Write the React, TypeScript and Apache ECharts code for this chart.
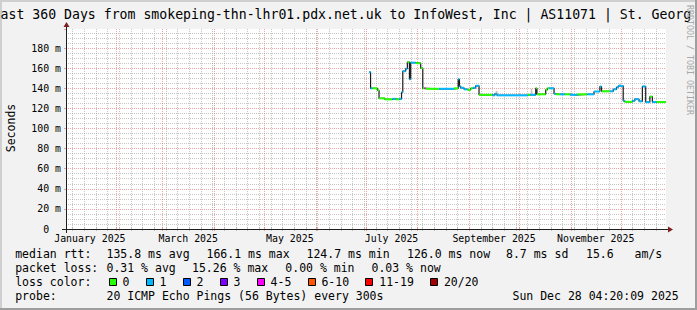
import React, { useEffect, useRef } from 'react';
import * as echarts from 'echarts';

const W = 697;
const H = 310;
const FONT = 'DejaVu Sans Mono';

// ---- chart data ----
const rangeStart = '2025-01-02T04:20:09';
const rangeEnd = '2025-12-28T04:20:09';

const sampleTimes = [
  '2025-07-03T00', '2025-07-03T22', '2025-07-05T00', '2025-07-08T00', '2025-07-09T00',
  '2025-07-12T12', '2025-07-17T00', '2025-07-19T00', '2025-07-21T00', '2025-07-22T12',
  '2025-07-23T06', '2025-07-25T00', '2025-07-26T00', '2025-07-27T06', '2025-07-28T00',
  '2025-07-31T00', '2025-08-03T00', '2025-08-04T06', '2025-08-05T06', '2025-08-06T00',
  '2025-08-14T00', '2025-08-23T00', '2025-08-25T12', '2025-08-26T06', '2025-08-27T00',
  '2025-08-29T00', '2025-08-31T00', '2025-09-02T00', '2025-09-03T06', '2025-09-05T00',
  '2025-09-07T00', '2025-09-15T00', '2025-09-16T12', '2025-09-17T18', '2025-10-06T06',
  '2025-10-07T18', '2025-10-11T00', '2025-10-11T18', '2025-10-17T00', '2025-10-18T00',
  '2025-10-19T00', '2025-10-22T00', '2025-10-23T00', '2025-10-25T12', '2025-10-28T12',
  '2025-10-31T12', '2025-11-05T00', '2025-11-11T00', '2025-11-15T00', '2025-11-18T12',
  '2025-11-19T12', '2025-11-24T12', '2025-11-26T12', '2025-11-28T12', '2025-11-29T12',
  '2025-12-02T12', '2025-12-03T12', '2025-12-08T00', '2025-12-09T12', '2025-12-12T00',
  '2025-12-14T00', '2025-12-16T00', '2025-12-18T12', '2025-12-20T00', '2025-12-22T12',
  '2025-12-28T04:20:09',
];
const medianMs = [
  156, 140, 140, 138, 130,
  129, 129.5, 129, 129.5, 136,
  157, 159.5, 166, 149, 165.5,
  165, 160, 140, 140, 139.5,
  139.5, 140, 149, 142, 140.5,
  139, 138.5, 140, 140.5, 142.5,
  133.5, 133, 134.5, 133, 133.5,
  133.5, 140, 134, 138.5, 140,
  140, 134.5, 134, 134, 134,
  133.5, 134, 134, 136.8, 141.8,
  137, 137, 139, 141, 142.4,
  127.5, 126.5, 127.5, 129.2, 127,
  141.8, 126.2, 131.8, 126.3, 126.3,
  126.0,
];
const lossBucket = [
  1, 1, 0, 0, 0,
  0, 1, 0, 1, 1,
  1, 1, 0, 1, 1,
  0, 0, 0, 4, 0,
  1, 0, 1, 1, 1,
  1, 0, 0, 1, 1,
  0, 1, 1, 1, 0,
  1, 0, 0, 0, 0,
  1, 1, 0, 1, 0,
  1, 0, 1, 1, 1,
  0, 1, 1, 1, 1,
  1, 0, 1, 1, 1,
  1, 1, 0, 1, 0,
  0,
];

const smokeTimes = ['2025-09-17', '2025-10-08', '2025-11-30', '2025-12-14'];
const smokeLow = [134, 134, 142.4, 141.8];
const smokeHigh = [137.5, 139.5, 144.5, 143];

const lossLabels = ['0', '1', '2', '3', '4-5', '6-10', '11-19', '20/20'];
const lossColors = ['#26ff00', '#00b8ff', '#0059ff', '#7e00ff', '#ff00ff', '#ff5500', '#ff0000', '#a00000'];

const monthStarts = [
  '2025-02-01', '2025-03-01', '2025-04-01', '2025-05-01', '2025-06-01', '2025-07-01',
  '2025-08-01', '2025-09-01', '2025-10-01', '2025-11-01', '2025-12-01',
];
const labelMonths = ['2025-01', '2025-03', '2025-05', '2025-07', '2025-09', '2025-11'];
const labelTexts = ['January 2025', 'March 2025', 'May 2025', 'July 2025', 'September 2025', 'November 2025'];

const rttValues = [135.8, 166.1, 124.7, 126.0];
const rttNames = ['avg', 'max', 'min', 'now'];
const rttSd = 8.7;
const rttAmS = 15.6;
const lossValues = [0.31, 15.26, 0.0, 0.03];
const lossNames = ['avg', 'max', 'min', 'now'];
const probeText = '20 ICMP Echo Pings (56 Bytes) every 300s';
const stampText = 'Sun Dec 28 04:20:09 2025';
// the visible (centred, edge-clipped) part of the graph title
const titleText = 'ast 360 Days from smokeping-thn-lhr01.pdx.net.uk to InfoWest, Inc | AS11071 | St. Georg';
const yUnit = 'm';
const yMin = 0;
const yMax = 199;
const yStep = 20;

// ---- helpers ----
function t(s: string): number {
  const m = s.match(/^(\d+)-(\d+)-(\d+)(?:T(\d+)(?::(\d+))?(?::(\d+))?)?$/)!;
  return Date.UTC(+m[1], +m[2] - 1, +m[3], +(m[4] || 0), +(m[5] || 0), +(m[6] || 0));
}
const DAY = 86400000;

const GRID_LEFT = 66;
const GRID_TOP = 29;
const GRID_W = 600;
const GRID_H = 200;
const GRID_BOTTOM = GRID_TOP + GRID_H;
const GRID_RIGHT = GRID_LEFT + GRID_W;

const majorGrid = 'rgba(222,79,79,0.5)';
const minorGrid = 'rgba(143,143,143,0.5)';
const axisColor = '#1f1f1f';
const arrowColor = '#801f1f';

function txt(text: string, x: number, y: number, size: number, extra: any = {}) {
  return {
    type: 'text',
    x,
    y,
    silent: true,
    ...extra,
    style: {
      text,
      fontFamily: FONT,
      fontSize: size,
      fill: '#000',
      textAlign: 'left',
      textVerticalAlign: 'middle',
      align: 'left',
      verticalAlign: 'middle',
      ...(extra.style || {}),
    },
  };
}

function buildOption(): any {
  const tStart = t(rangeStart);
  const tEnd = t(rangeEnd);

  // grid lines: weekly (Monday) minor, monthly major
  const gridData: number[][] = [];
  for (let ms = t('2025-01-06'); ms < tEnd; ms += 7 * DAY) {
    if (!monthStarts.some((m) => t(m) === ms)) gridData.push([ms, 0]);
  }
  monthStarts.forEach((m) => gridData.push([t(m), 1]));

  const labelData = labelMonths.map((ym, i) => {
    const [y, mo] = ym.split('-').map(Number);
    const a = Date.UTC(y, mo - 1, 1);
    const b = Date.UTC(y, mo, 1);
    return [(a + b) / 2, i];
  });

  const lineData = sampleTimes.map((s, i) => [t(s), medianMs[i]]);
  const segData = sampleTimes.slice(0, -1).map((s, i) => [t(s), t(sampleTimes[i + 1]), medianMs[i], lossBucket[i]]);
  const smokeData = smokeTimes.map((s, i) => [t(s), smokeLow[i], smokeHigh[i]]);

  // legend graphics
  const L1 = 254, L2 = 268, L3 = 282, L4 = 296;
  const legend: any[] = [];
  legend.push(txt('median rtt:', 15.2, L1, 11.5));
  const rttX = [106.5, 206.5, 306.5, 407];
  rttValues.forEach((v, i) => legend.push(txt(`${v.toFixed(1)} ms ${rttNames[i]}`, rttX[i], L1, 11.5)));
  legend.push(txt(`${rttSd.toFixed(1)} ms sd`, 506, L1, 11.5));
  legend.push(txt(`${rttAmS.toFixed(1)}   am/s`, 586, L1, 11.5));

  legend.push(txt('packet loss:', 15.2, L2, 11.5));
  const lossX = [106.5, 192, 285.3, 371.5];
  lossValues.forEach((v, i) => legend.push(txt(`${v.toFixed(2)} % ${lossNames[i]}`, lossX[i], L2, 11.5)));

  legend.push(txt('loss color:', 15.2, L3, 11.5));
  let bx = 108.7;
  lossLabels.forEach((lab, i) => {
    legend.push({
      type: 'rect',
      silent: true,
      shape: { x: Math.round(bx) + 0.5, y: 278.5, width: 7, height: 7 },
      style: { fill: lossColors[i], stroke: '#000', lineWidth: 1 },
    });
    const tx = bx + 13.8;
    legend.push(txt(lab, tx, L3, 11.5));
    bx = tx + lab.length * 6.92 + 16.3;
  });

  legend.push(txt('probe:', 15.2, L4, 11.5));
  legend.push(txt(probeText, 106.5, L4, 11.5));
  legend.push(txt(stampText, 512.5, L4, 11.5));

  const graphic: any[] = [
    // frame shading
    { type: 'rect', silent: true, shape: { x: 0, y: 0, width: W, height: 2 }, style: { fill: '#cfcfcf' } },
    { type: 'rect', silent: true, shape: { x: 0, y: 0, width: 2, height: H }, style: { fill: '#cfcfcf' } },
    { type: 'rect', silent: true, shape: { x: W - 2, y: 0, width: 2, height: H }, style: { fill: '#9e9e9e' } },
    { type: 'rect', silent: true, shape: { x: 0, y: H - 2, width: W, height: 2 }, style: { fill: '#9e9e9e' } },
    // title
    txt(titleText, 0.5, 14, 13.2),
    // vertical axis title
    txt('Seconds', 11, 128, 11.5, { rotation: Math.PI / 2, style: { textAlign: 'center', align: 'center' } }),
    // watermark
    txt('RRDTOOL / TOBI OETIKER', 689.5, 60, 8.3, {
      rotation: -Math.PI / 2,
      style: { textAlign: 'center', align: 'center', fill: '#a8a8a8' },
    }),
    // axes (extended a little past the plot like rrdtool)
    {
      type: 'line', silent: true, z: 99,
      shape: { x1: GRID_LEFT - 4, y1: GRID_BOTTOM + 0.5, x2: GRID_RIGHT + 4, y2: GRID_BOTTOM + 0.5 },
      style: { stroke: axisColor, lineWidth: 1 },
    },
    {
      type: 'line', silent: true, z: 99,
      shape: { x1: GRID_LEFT + 0.5, y1: GRID_BOTTOM + 4, x2: GRID_LEFT + 0.5, y2: GRID_TOP - 4 },
      style: { stroke: axisColor, lineWidth: 1 },
    },
    // axis arrows
    {
      type: 'polygon', silent: true, z: 100,
      shape: { points: [[GRID_RIGHT + 7, GRID_BOTTOM + 0.5], [GRID_RIGHT + 2, GRID_BOTTOM - 2.5], [GRID_RIGHT + 2, GRID_BOTTOM + 3.5]] },
      style: { fill: arrowColor },
    },
    {
      type: 'polygon', silent: true, z: 100,
      shape: { points: [[GRID_LEFT + 0.5, GRID_TOP - 7], [GRID_LEFT - 2.5, GRID_TOP - 2], [GRID_LEFT + 3.5, GRID_TOP - 2]] },
      style: { fill: arrowColor },
    },
    ...legend,
  ];

  return {
    animation: false,
    backgroundColor: '#f2f2f2',
    grid: {
      left: GRID_LEFT,
      top: GRID_TOP,
      width: GRID_W,
      height: GRID_H,
      show: true,
      backgroundColor: '#ffffff',
      borderWidth: 0,
      containLabel: false,
    },
    xAxis: {
      type: 'value',
      min: tStart,
      max: tEnd,
      axisLine: { show: false },
      axisTick: { show: false },
      axisLabel: { show: false },
      splitLine: { show: false },
    },
    yAxis: {
      type: 'value',
      min: yMin,
      max: yMax,
      interval: yStep,
      axisLine: { show: false },
      axisTick: { show: true, length: 2, lineStyle: { color: majorGrid } },
      minorTick: { show: false, splitNumber: 4 },
      axisLabel: {
        margin: 5,
        fontFamily: FONT,
        fontSize: 9.9,
        color: '#000',
        formatter: (v: number) => (v === 0 ? '0\u00a0\u00a0' : v % yStep === 0 && v <= yMax ? `${v} ${yUnit}` : ''),
      },
      splitLine: { show: true, showMaxLine: false, showMinLine: false, lineStyle: { color: majorGrid, type: [1, 1], width: 1 } },
      minorSplitLine: { show: true, lineStyle: { color: minorGrid, type: [1, 1], width: 1 } },
    },
    graphic,
    series: [
      {
        type: 'custom',
        name: 'grid',
        z: 1,
        silent: true,
        clip: false,
        encode: { x: 0 },
        data: gridData,
        renderItem: (params: any, api: any) => {
          const cs = params.coordSys;
          const x = Math.round(api.coord([api.value(0), 0])[0]) + 0.5;
          const color = api.value(1) === 1 ? majorGrid : minorGrid;
          return {
            type: 'group',
            children: [
              { type: 'line', shape: { x1: x, y1: cs.y, x2: x, y2: cs.y + cs.height }, style: { stroke: color, lineWidth: 1, lineDash: [1, 1] } },
              { type: 'line', shape: { x1: x, y1: cs.y + cs.height - 2, x2: x, y2: cs.y + cs.height + 2 }, style: { stroke: color, lineWidth: 1 } },
            ],
          };
        },
      },
      {
        type: 'custom',
        name: 'labels',
        z: 1,
        silent: true,
        clip: false,
        encode: { x: 0 },
        data: labelData,
        renderItem: (params: any, api: any) => {
          const cs = params.coordSys;
          const x = api.coord([api.value(0), 0])[0];
          return {
            type: 'text',
            x,
            y: cs.y + cs.height + 9,
            style: {
              text: labelTexts[api.value(1)],
              fontFamily: FONT,
              fontSize: 9.9,
              fill: '#000',
              textAlign: 'center',
              textVerticalAlign: 'middle',
              align: 'center',
              verticalAlign: 'middle',
            },
          };
        },
      },
      {
        type: 'custom',
        name: 'smoke',
        z: 2,
        silent: true,
        encode: { x: 0, y: [1, 2] },
        data: smokeData,
        renderItem: (params: any, api: any) => {
          const p0 = api.coord([api.value(0), api.value(2)]);
          const p1 = api.coord([api.value(0) + DAY, api.value(1)]);
          return {
            type: 'rect',
            shape: { x: p0[0], y: p0[1], width: p1[0] - p0[0], height: p1[1] - p0[1] },
            style: { fill: '#c4c4c4' },
          };
        },
      },
      {
        type: 'line',
        name: 'median',
        z: 3,
        step: 'end',
        symbol: 'none',
        silent: true,
        data: lineData,
        lineStyle: { color: '#1a1a1a', width: 1.2 },
      },
      {
        type: 'custom',
        name: 'loss',
        z: 4,
        silent: true,
        encode: { x: [0, 1], y: 2 },
        data: segData,
        renderItem: (params: any, api: any) => {
          const p0 = api.coord([api.value(0), api.value(2)]);
          const p1 = api.coord([api.value(1), api.value(2)]);
          return {
            type: 'line',
            shape: { x1: p0[0], y1: p0[1], x2: p1[0], y2: p1[1] },
            style: { stroke: lossColors[api.value(3)], lineWidth: 2 },
          };
        },
      },
    ],
  };
}

export default function App() {
  const ref = useRef<HTMLDivElement>(null);
  useEffect(() => {
    if (!ref.current) return;
    const chart = echarts.init(ref.current, null, { renderer: 'svg', width: W, height: H });
    chart.setOption(buildOption());
    return () => chart.dispose();
  }, []);
  return <div ref={ref} style={{ position: 'fixed', left: 0, top: 0, width: W, height: H }} />;
}
